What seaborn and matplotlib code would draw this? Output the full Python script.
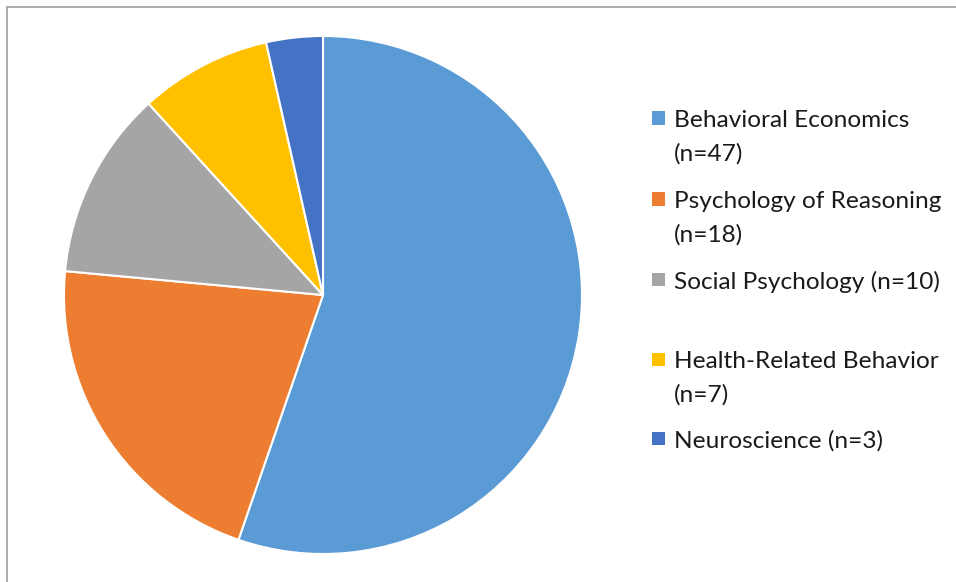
import matplotlib
matplotlib.use("Agg")
import matplotlib.pyplot as plt
import matplotlib.patches as mpatches
import seaborn as sns

categories = ["Behavioral Economics", "Psychology of Reasoning", "Social Psychology",
              "Health-Related Behavior", "Neuroscience"]
counts = [47, 18, 10, 7, 3]
legend_labels = ["Behavioral Economics\n(n=47)", "Psychology of Reasoning\n(n=18)",
                 "Social Psychology (n=10)", "Health-Related Behavior\n(n=7)",
                 "Neuroscience (n=3)"]
colors = ["#5B9BD5", "#ED7D31", "#A5A5A5", "#FFC000", "#4472C4"]

sns.set_theme(style="white")
plt.rcParams['font.family'] = ['Lato', 'DejaVu Sans']

W, H = 956, 582
fig = plt.figure(figsize=(W / 100, H / 100), dpi=100)

# border
fig.patches.append(mpatches.Rectangle((7 / W, -0.1), 2.0, 1.1 - 7 / H, transform=fig.transFigure,
                                      fill=False, edgecolor="#A6A6A6", linewidth=1.3))

cx, cy, r = 323, 295, 259
ax = fig.add_axes([(cx - r) / W, (H - cy - r) / H, 2 * r / W, 2 * r / H])
pal = sns.color_palette(colors)
ax.pie(counts, colors=pal, startangle=90, counterclock=False, radius=1.0,
       wedgeprops=dict(edgecolor="white", linewidth=1.5))
ax.set_xlim(-1.0, 1.0)
ax.set_ylim(-1.0, 1.0)
ax.set_aspect("equal")
ax.axis("off")

# legend (manual, to match spacing)
ys = [118, 199, 279, 359, 438]
for lab, col, y in zip(legend_labels, pal, ys):
    fig.patches.append(mpatches.Rectangle((652 / W, (H - y - 6.5) / H), 13 / W, 13 / H,
                                          transform=fig.transFigure, facecolor=col, edgecolor="none"))
    for i, line in enumerate(lab.split("\n")):
        fig.text(674 / W, (H - y - 2.5 - i * 33.5) / H, line, ha="left", va="center",
                 fontsize=17.6, color="#1a1a1a")

fig.savefig("out.png", dpi=100)
